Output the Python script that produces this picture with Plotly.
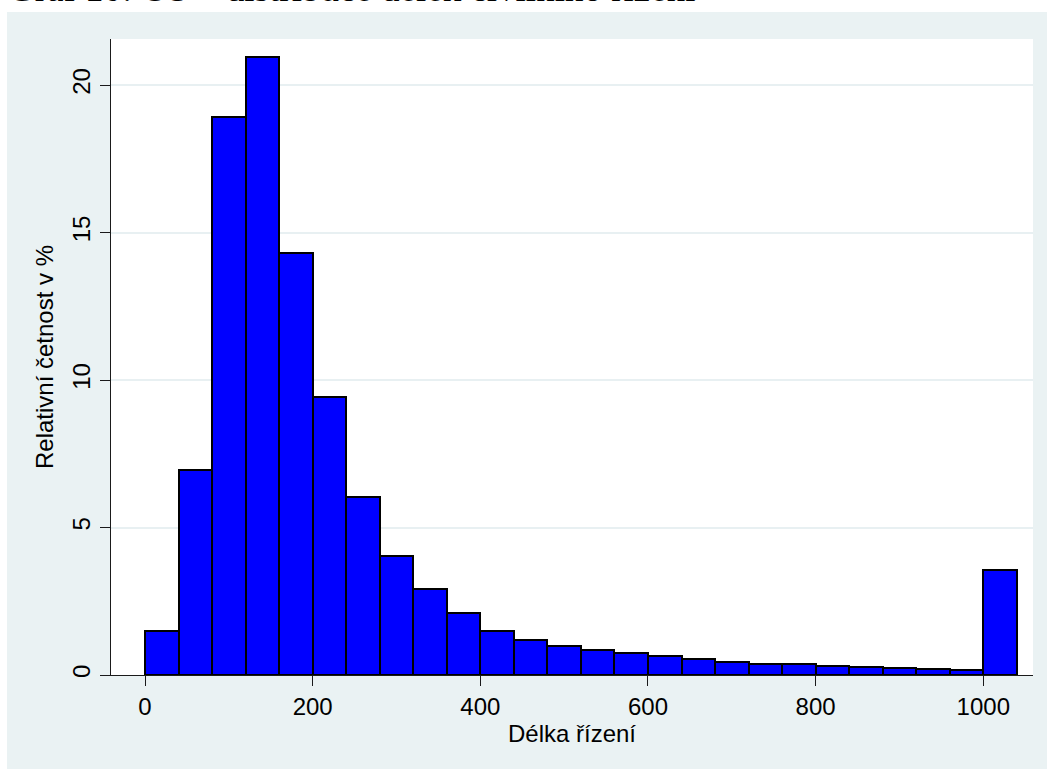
import plotly.graph_objects as go

# ---- data ----
bin_left = [0, 40, 80, 120, 160, 200, 240, 280, 320, 360, 400, 440, 480,
            520, 560, 600, 640, 680, 720, 760, 800, 840, 880, 920, 960, 1000]
bin_width = 40
rel_freq = [1.48, 6.95, 18.91, 20.96, 14.31, 9.43, 6.04, 4.04, 2.92, 2.10,
            1.48, 1.18, 0.98, 0.85, 0.75, 0.64, 0.54, 0.45, 0.39, 0.37,
            0.31, 0.27, 0.24, 0.20, 0.17, 3.55]
x_ticks = [0, 200, 400, 600, 800, 1000]
y_ticks = [0, 5, 10, 15, 20]
title_text = "Graf 10: OS \u2013 distribuce délek civilního řízení"
x_title = "Délka řízení"
y_title = "Relativní četnost v %"

W, H = 1047, 769
L, R, T, B = 111, 14, 39, 94
PW, PH = W - L - R, H - T - B

def px_to_paper_x(px):
    return (px - L) / PW

def px_to_paper_y(py):
    return (H - B - py) / PH

BG = "#EAF2F3"
AXC = "#1a1a1a"
FONT = "Liberation Sans, Arial, sans-serif"

fig = go.Figure()
fig.add_trace(go.Bar(
    x=bin_left, y=rel_freq, width=[bin_width] * len(bin_left), offset=0,
    marker=dict(color="#0000FF", line=dict(color="black", width=2)),
    hoverinfo="x+y",
))

fig.update_layout(
    width=W, height=H,
    margin=dict(l=L, r=R, t=T, b=B, pad=0),
    paper_bgcolor=BG,
    plot_bgcolor="white",
    showlegend=False,
    bargap=0,
    font=dict(family=FONT, size=24, color="black"),
    xaxis=dict(
        range=[-40.6, 1059.3], tickmode="array", tickvals=x_ticks,
        showgrid=False, zeroline=False,
        showline=True, linecolor=AXC, linewidth=1,
        ticks="outside", ticklen=10, tickwidth=1, tickcolor=AXC,
        tickfont=dict(size=24, family=FONT, color="black"),
        title=dict(text=x_title, font=dict(size=24, family=FONT, color="black"), standoff=6),
    ),
    yaxis=dict(
        range=[0, 21.56], tickmode="array", tickvals=y_ticks,
        showgrid=True, gridcolor="#E8F0F2", gridwidth=1.5,
        zeroline=False,
        showline=True, linecolor=AXC, linewidth=1,
        ticks="outside", ticklen=10, tickwidth=1, tickcolor=AXC,
        tickangle=-90,
        tickfont=dict(size=24, family=FONT, color="black"),
        title=dict(text=y_title, font=dict(size=24, family=FONT, color="black"), standoff=8),
    ),
    shapes=[
        # white strip on top of the page
        dict(type="rect", xref="paper", yref="paper",
             x0=-0.3, x1=1.2, y0=px_to_paper_y(12), y1=1.3,
             fillcolor="white", line=dict(width=0), layer="below"),
        # white strip on the left
        dict(type="rect", xref="paper", yref="paper",
             x0=-0.3, x1=px_to_paper_x(7), y0=-0.3, y1=1.3,
             fillcolor="white", line=dict(width=0), layer="below"),
    ],
    annotations=[
        dict(text=title_text, xref="paper", yref="paper",
             x=px_to_paper_x(6), y=px_to_paper_y(11), xanchor="left", yanchor="bottom",
             showarrow=False,
             font=dict(family="Liberation Serif, Times New Roman, serif", size=37, color="black")),
    ],
)

fig.write_html("out.html", config={"displayModeBar": False},
               post_script="document.body.style.margin='0';document.body.style.overflow='hidden';")
